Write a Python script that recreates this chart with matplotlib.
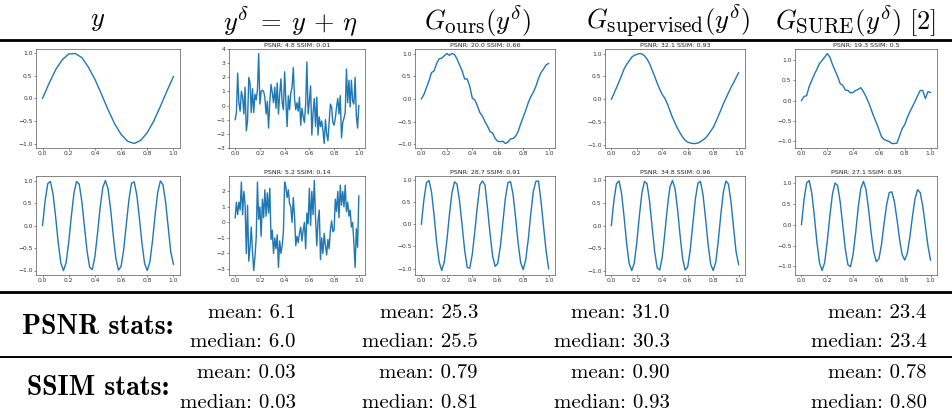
import matplotlib
matplotlib.use("Agg")
import matplotlib.pyplot as plt
import matplotlib._mathtext as mathtext_internal
from matplotlib.lines import Line2D

plt.rcParams['mathtext.fontset'] = 'cm'
# LaTeX sub/superscripts (cmr7) come out wider than mathtext's default 0.7 scaling
mathtext_internal.SHRINK_FACTOR = 0.8

# x grids
x_noisy = [i / 100 for i in range(101)]
x_rec = [i / 50 for i in range(51)]
x_clean1 = [i / 20 for i in range(21)]

# row 1: slow sine
clean_1 = [0.00, 0.33, 0.63, 0.85, 0.98, 0.99, 0.90, 0.69, 0.42, 0.09, -0.25,
           -0.56, -0.80, -0.95, -1.00, -0.93, -0.76, -0.50, -0.18, 0.16, 0.48]
noisy_1 = [-1.0, -0.5, 2.3, 0.2, -0.4, 1.0, 0.6, -0.6, 1.3, -1.8, -1.1,
           2.0, 1.6, -0.5, 1.2, -0.5, 0.8, 0.4, 1.1, 3.7, 0.1,
           1.0, 1.1, 1.0, 0.6, -0.6, 0.3, -1.6, 0.3, 1.5, 0.9,
           0.2, 1.3, -0.2, 1.6, -0.6, 0.8, 1.9, 0.2, -0.3, 2.4,
           0.3, -1.5, 0.7, -0.3, 0.9, 1.3, 2.7, 0.5, -0.3, 0.2,
           -0.4, 0.6, -1.4, -0.2, -0.8, -1.2, 0.1, 3.1, -0.6, 0.3,
           1.4, -2.1, -0.5, 0.5, -1.5, 0.6, -2.1, -0.8, -1.5, -1.1,
           -1.8, -2.7, -1.0, -2.0, -2.5, -1.2, 0.1, -0.1, -1.2, -1.4,
           -0.9, -0.1, 0.5, -0.6, 0.7, -2.3, -1.2, -0.9, -0.5, 2.6,
           0.2, 1.8, -0.1, 1.8, 0.3, 0.1, 2.0, -0.7, -1.6, 0.0]
ours_1 = [0.00, 0.10, 0.25, 0.40, 0.58, 0.62, 0.78, 0.88, 0.90, 0.95, 1.00,
          0.96, 1.00, 0.98, 0.88, 0.75, 0.62, 0.44, 0.44, 0.28, 0.02,
          -0.02, -0.15, -0.30, -0.38, -0.50, -0.60, -0.72, -0.75, -0.87, -0.93,
          -0.94, -0.93, -0.98, -0.95, -0.88, -0.87, -0.82, -0.72, -0.55, -0.40,
          -0.25, -0.08, 0.05, 0.15, 0.28, 0.45, 0.58, 0.66, 0.75, 0.78]
sup_1 = [0.00, 0.12, 0.25, 0.38, 0.52, 0.66, 0.76, 0.84, 0.92, 0.96, 0.98,
         1.00, 0.99, 0.95, 0.88, 0.78, 0.64, 0.50, 0.35, 0.22, 0.10,
         0.02, -0.10, -0.25, -0.40, -0.52, -0.64, -0.74, -0.83, -0.90, -0.94,
         -0.96, -0.97, -0.97, -0.96, -0.93, -0.89, -0.85, -0.78, -0.70, -0.62,
         -0.50, -0.37, -0.24, -0.10, 0.02, 0.14, 0.26, 0.36, 0.47, 0.58]
sure_1 = [0.00, 0.10, 0.12, 0.35, 0.50, 0.65, 0.78, 0.92, 1.00, 1.08, 1.17,
          1.08, 0.90, 0.75, 0.60, 0.42, 0.38, 0.26, 0.25, 0.19, 0.20,
          0.25, 0.28, 0.32, 0.22, 0.10, -0.05, -0.22, -0.40, -0.55, -0.72,
          -0.90, -0.97, -1.00, -1.02, -1.07, -1.07, -1.06, -0.88, -0.70, -0.60,
          -0.42, -0.28, -0.15, -0.02, 0.12, 0.25, 0.25, 0.05, 0.22, 0.20]

# row 2: fast sine
clean_2 = [0.00, 0.56, 0.93, 0.98, 0.70, 0.19, -0.39, -0.84, -1.00, -0.83, -0.37,
           0.21, 0.72, 0.98, 0.92, 0.54, -0.02, -0.57, -0.93, -0.98, -0.69,
           -0.17, 0.40, 0.84, 1.00, 0.82, 0.36, -0.22, -0.73, -0.99, -0.91,
           -0.53, 0.03, 0.58, 0.94, 0.97, 0.68, 0.16, -0.41, -0.85, -1.00,
           -0.81, -0.34, 0.24, 0.74, 0.99, 0.91, 0.52, -0.04, -0.60, -0.86]
noisy_2 = [0.3, 1.3, 0.5, 1.3, 0.8, 2.6, 0.5, 2.0, 1.2, -2.0, 1.1,
           -2.5, -1.6, -0.3, -1.9, -3.1, -2.2, -1.0, 2.6, 0.2, 1.0,
           -0.9, 1.5, 0.3, 2.1, 0.4, 1.9, 0.6, 2.2, -1.1, -0.5,
           -2.0, -1.0, -1.7, -0.8, -2.9, -1.2, -2.0, -1.5, -0.6, 2.6,
           2.3, 1.6, 2.1, 1.2, 1.0, 0.0, 1.6, 0.4, -1.5, -0.9,
           -1.3, -0.7, -0.3, -1.2, -0.5, 0.0, -1.7, 0.6, -0.1, 2.2,
           -0.2, 2.0, 0.5, 2.7, 0.3, -1.5, 0.1, 0.8, -2.4, -1.0,
           -2.0, -0.7, -1.5, -2.1, -1.1, -1.7, -0.5, 0.1, -0.6, -0.5,
           1.5, 0.7, 2.0, 0.3, 2.4, 1.1, 2.0, 1.0, 2.4, 0.7,
           1.3, 0.4, 0.8, -0.3, 0.0, -1.3, -2.9, -0.4, -1.6, 1.7]
ours_2 = [0.00, 0.55, 0.93, 0.98, 0.72, 0.20, -0.40, -0.85, -1.04, -0.85, -0.38,
          0.20, 0.70, 0.95, 0.90, 0.52, -0.02, -0.58, -0.97, -0.99, -0.68,
          -0.16, 0.40, 0.88, 0.97, 0.88, 0.35, -0.22, -0.72, -0.95, -0.88,
          -0.52, 0.03, 0.58, 0.93, 0.96, 0.68, 0.16, -0.42, -0.86, -1.02,
          -0.80, -0.34, 0.24, 0.74, 0.96, 0.97, 0.52, -0.05, -0.60, -1.00]
sup_2 = [0.00, 0.55, 0.92, 0.98, 0.71, 0.19, -0.39, -0.84, -0.99, -0.83, -0.37,
         0.21, 0.72, 0.97, 0.92, 0.54, -0.02, -0.57, -0.93, -0.98, -0.69,
         -0.17, 0.40, 0.84, 0.99, 0.82, 0.36, -0.22, -0.73, -0.98, -0.91,
         -0.53, 0.03, 0.58, 0.93, 0.97, 0.68, 0.16, -0.41, -0.85, -0.99,
         -0.81, -0.34, 0.24, 0.74, 0.98, 0.91, 0.52, -0.04, -0.58, -0.86]
sure_2 = [0.00, 0.60, 1.00, 1.06, 0.76, 0.20, -0.43, -0.92, -1.10, -0.91, -0.40,
          0.21, 0.73, 1.00, 0.94, 0.55, -0.02, -0.59, -0.96, -1.01, -0.71,
          -0.18, 0.42, 0.87, 1.04, 0.85, 0.37, -0.20, -0.66, -0.89, -0.82,
          -0.48, 0.03, 0.48, 0.77, 0.79, 0.55, 0.13, -0.35, -0.72, -0.85,
          -0.69, -0.29, 0.20, 0.63, 0.84, 0.77, 0.44, -0.03, -0.51, -0.85]

titles_1 = [None, "PSNR: 4.8 SSIM: 0.01", "PSNR: 20.0 SSIM: 0.66",
            "PSNR: 32.1 SSIM: 0.93", "PSNR: 19.3 SSIM: 0.5"]
titles_2 = [None, "PSNR: 5.2 SSIM: 0.14", "PSNR: 28.7 SSIM: 0.91",
            "PSNR: 34.8 SSIM: 0.96", "PSNR: 27.1 SSIM: 0.95"]

headers = [r"$y$", r"$y^{\delta}\;=\;y\,+\,\eta$", r"$G_{\mathrm{ours}}(y^{\delta})$",
           r"$G_{\mathrm{supervised}}(y^{\delta})$",
           r"$G_{\mathrm{SURE}}(y^{\delta})\ [2]$"]
psnr_mean = ["6.1", "25.3", "31.0", "23.4"]
psnr_median = ["6.0", "25.5", "30.3", "23.4"]
ssim_mean = ["0.03", "0.79", "0.90", "0.78"]
ssim_median = ["0.03", "0.81", "0.93", "0.80"]

W, H = 953, 418
fig = plt.figure(figsize=(W / 100, H / 100), dpi=100)


def fx(px):
    return px / W


def fy(py):
    return 1 - py / H


def hline(py, lw):
    fig.add_artist(Line2D([0, 1], [fy(py), fy(py)], lw=lw, color="black",
                          transform=fig.transFigure))


col_left = [36, 229, 415, 605, 795]
col_right = [180, 365, 555, 745, 937]
row_top = [49, 176]
row_bot = [148, 275]

rows = [
    [(x_clean1, clean_1), (x_noisy, noisy_1), (x_rec, ours_1), (x_rec, sup_1), (x_rec, sure_1)],
    [(x_rec, clean_2), (x_noisy, noisy_2), (x_rec, ours_2), (x_rec, sup_2), (x_rec, sure_2)],
]
titles = [titles_1, titles_2]

for r in range(2):
    for c in range(5):
        l, rr = col_left[c], col_right[c]
        t, b = row_top[r], row_bot[r]
        ax = fig.add_axes([fx(l), fy(b), (rr - l) / W, (b - t) / H])
        xs, ys = rows[r][c]
        ax.plot(xs, ys, color="#1f77b4", lw=1.0)
        ax.set_xticks([0, 0.2, 0.4, 0.6, 0.8, 1.0])
        ax.tick_params(labelsize=4.3, length=1.5, width=0.4, pad=1, colors="#333333")
        for s in ax.spines.values():
            s.set_linewidth(0.5)
            s.set_color("#555555")
        if titles[r][c]:
            ax.set_title(titles[r][c], fontsize=4.6, pad=1.5, color="#222222")

# header row
head_x = [98, 290, 478, 668, 855]
for hx, txt in zip(head_x, headers):
    fig.text(fx(hx), fy(20), txt, ha="center", va="center", fontsize=19)

hline(40, 2.0)
hline(292, 2.0)
hline(357, 1.4)

# stats
stat_right = [296, 478, 670, 927]
fig.text(fx(98), fy(327), "PSNR stats:", family="cmb10", fontsize=20,
         ha="center", va="center")
fig.text(fx(98), fy(388), "SSIM stats:", family="cmb10", fontsize=20,
         ha="center", va="center")
for i in range(4):
    fig.text(fx(stat_right[i]), fy(313), "mean: " + psnr_mean[i], family="cmr10",
             fontsize=15, ha="right", va="center")
    fig.text(fx(stat_right[i]), fy(342), "median: " + psnr_median[i], family="cmr10",
             fontsize=15, ha="right", va="center")
    fig.text(fx(stat_right[i]), fy(373), "mean: " + ssim_mean[i], family="cmr10",
             fontsize=15, ha="right", va="center")
    fig.text(fx(stat_right[i]), fy(403), "median: " + ssim_median[i], family="cmr10",
             fontsize=15, ha="right", va="center")

fig.savefig("out.png", dpi=100)
